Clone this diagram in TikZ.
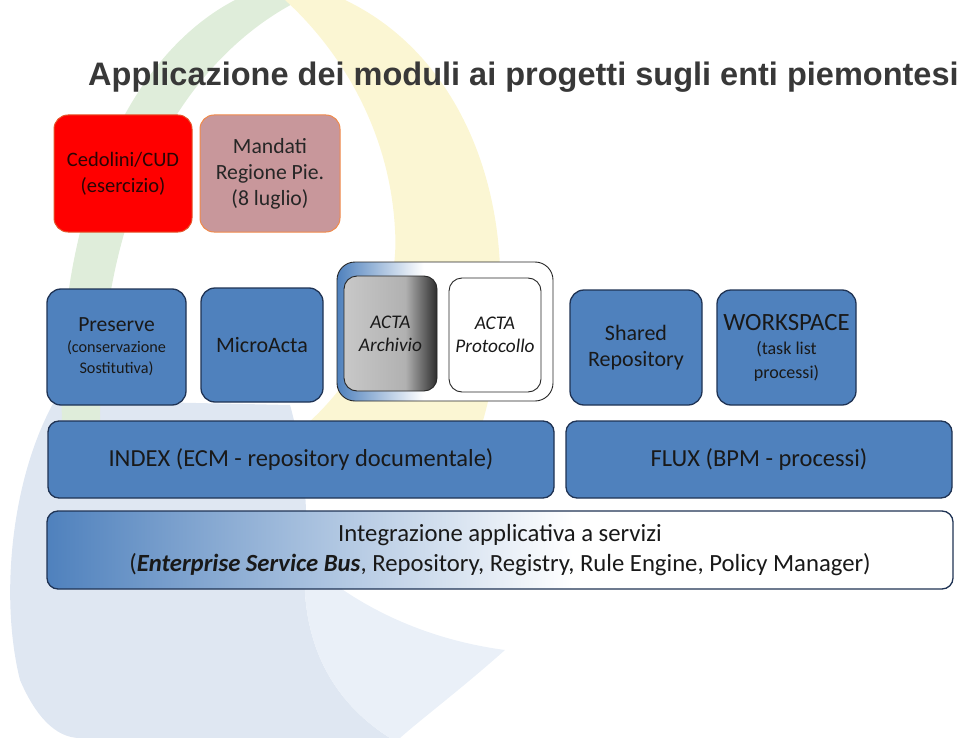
\documentclass[tikz,border=0pt]{standalone}
\usepackage{fontspec}
\setmainfont{Carlito}
\newfontfamily\titlefont{Liberation Sans}
\usetikzlibrary{positioning}
\definecolor{BoxBlue}{HTML}{4F81BD}
\definecolor{BoxEdge}{HTML}{1F3354}
\definecolor{TitleGray}{HTML}{383838}
\definecolor{CedRed}{HTML}{FF0000}
\definecolor{CedEdge}{HTML}{E4552A}
\definecolor{CedText}{HTML}{2A0505}
\definecolor{MandPink}{HTML}{C8979B}
\definecolor{MandEdge}{HTML}{F08A4B}
\definecolor{ArchGray}{HTML}{C8C8C8}
\definecolor{ArchDark}{HTML}{2E2E2E}
\definecolor{BgGreen}{HTML}{DFEDDA}
\definecolor{BgYellow}{HTML}{FBF6D3}
\definecolor{BgBlue}{HTML}{DFE7F2}
\definecolor{BgBlueLight}{HTML}{EAF0F8}

\pgfdeclarehorizontalshading{archshade}{100bp}{color(0bp)=(ArchGray); color(25bp)=(ArchGray); color(58bp)=(ArchGray!85!ArchDark); color(75bp)=(ArchDark); color(100bp)=(ArchDark)}
\pgfdeclarehorizontalshading{esbshade}{100bp}{color(0bp)=(BoxBlue); color(25bp)=(BoxBlue); color(54bp)=(white); color(100bp)=(white)}
\pgfdeclarehorizontalshading{actashade}{100bp}{color(0bp)=(BoxBlue); color(25bp)=(BoxBlue); color(45bp)=(white); color(100bp)=(white)}

\tikzset{
  modbox/.style={draw=BoxEdge, line width=1.3pt, fill=BoxBlue, rounded corners=14pt,
                 align=center, text=black!90, inner sep=2pt},
  wide/.style={modbox, rounded corners=11pt, minimum height=77pt},
  acta/.style={draw=black!85, line width=0.9pt, rounded corners=13pt, align=center,
               text=black!90, font=\itshape\fontsize{19.3}{23}\selectfont},
}

\begin{document}
\begin{tikzpicture}[x=1pt, y=-1pt]
  \useasboundingbox (0,0) rectangle (960,738);
  % faint logo in the background
  \fill[BgBlue] (55,400) .. controls (10,480) and (0,600) .. (20,680)
    .. controls (35,715) and (55,738) .. (80,738) -- (390,738)
    .. controls (330,700) and (300,640) .. (305,560)
    .. controls (310,500) and (300,440) .. (290,405) -- cycle;
  \fill[BgBlueLight] (305,560) .. controls (360,610) and (430,640) .. (505,650)
    .. controls (460,690) and (420,720) .. (400,738) -- (390,738)
    .. controls (330,700) and (300,640) .. (305,560) -- cycle;
  \fill[BgGreen] (62,420) .. controls (55,230) and (120,60) .. (235,0) -- (300,0)
    .. controls (200,50) and (100,180) .. (100,420) -- cycle;
  \fill[BgYellow] (285,0) -- (345,0) .. controls (450,50) and (505,170) .. (500,300)
    .. controls (498,360) and (490,400) .. (480,430) -- (300,430)
    .. controls (360,380) and (400,300) .. (395,230)
    .. controls (390,130) and (340,50) .. (285,0) -- cycle;

  \node[anchor=base west, inner sep=0, text=TitleGray,
        font=\titlefont\bfseries\fontsize{32.5}{39}\selectfont] (title) at (88,86)
        {Applicazione dei moduli ai progetti sugli enti piemontesi};

  % progetti
  \node[modbox, fill=CedRed, draw=CedEdge, text=CedText, line width=1pt,
        minimum width=138pt, minimum height=117pt,
        font=\fontsize{20.5}{26}\selectfont] (cedolini) at (123,173.5)
        {Cedolini/CUD\\(esercizio)};
  \node[modbox, fill=MandPink, draw=MandEdge, text=black!85, line width=1pt,
        minimum width=140pt, minimum height=117pt,
        font=\fontsize{21.7}{26}\selectfont] (mandati) at (270,173.5)
        {Mandati\\Regione Pie.\\(8 luglio)};

  % moduli
  \node[modbox, minimum width=139pt, minimum height=116pt,
        font=\fontsize{16.2}{21}\selectfont] (preserve) at (116.5,347)
        {{\fontsize{21.6}{25}\selectfont Preserve}\\(conservazione\\Sostitutiva)};
  \node[modbox, minimum width=122pt, minimum height=114pt,
        font=\fontsize{22}{26}\selectfont] (microacta) at (262,345) {MicroActa};
  \path[shading=actashade, draw=black!85, line width=0.9pt, rounded corners=18pt]
        (337,262) rectangle (553,401);
  \node[acta, shading=archshade, minimum width=93pt, minimum height=115pt]
        (archivio) at (390.5,333.5) {ACTA\\Archivio};
  \node[acta, fill=white, minimum width=92pt, minimum height=114pt]
        (protocollo) at (495,335) {ACTA\\Protocollo};
  \node[modbox, minimum width=132pt, minimum height=115pt,
        font=\fontsize{22}{26}\selectfont] (shared) at (636,347.5)
        {Shared\\Repository};
  \node[modbox, minimum width=139pt, minimum height=115pt,
        font=\fontsize{18}{24}\selectfont] (workspace) at (786.5,347.5)
        {{\fontsize{24.8}{28}\selectfont WORKSPACE}\\(task list\\processi)};

  % piattaforme
  \node[wide, minimum width=506pt, font=\fontsize{24.5}{29}\selectfont]
        (index) at (301,459.5) {INDEX (ECM - repository documentale)};
  \node[wide, minimum width=386pt, font=\fontsize{24.5}{29}\selectfont]
        (flux) at (759,459.5) {FLUX (BPM - processi)};
  \node[wide, fill=none, shading=esbshade, minimum width=906pt, minimum height=78pt,
        font=\fontsize{24.7}{30}\selectfont] (esb) at (500,550)
        {Integrazione applicativa a servizi\\(\textbf{\textit{Enterprise Service Bus}}, Repository, Registry, Rule Engine, Policy Manager)};
\end{tikzpicture}
\end{document}
